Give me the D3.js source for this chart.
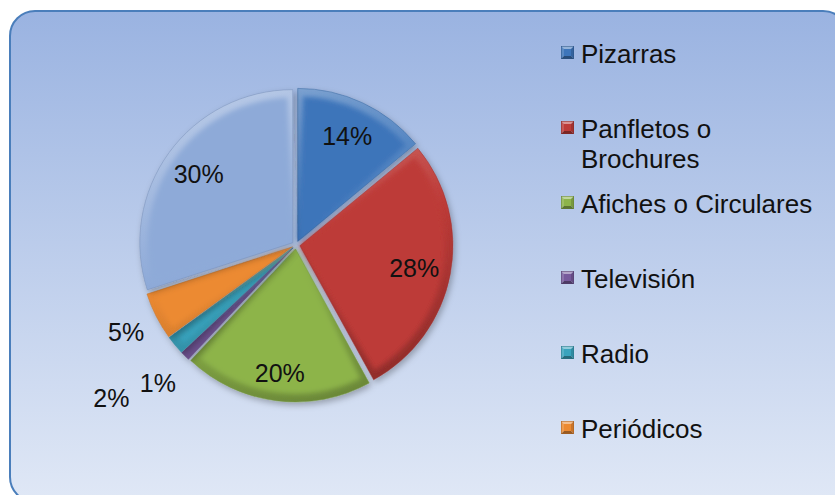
<!DOCTYPE html>
<html lang="es">
<head>
<meta charset="UTF-8">
<title>Medios de difusión</title>
<script src="https://cdn.jsdelivr.net/npm/d3@7"></script>
<style>
  body{margin:0;background:#fff;}
  svg text{font-family:"Liberation Sans",Arial,sans-serif;fill:#111;}
</style>
</head>
<body>
<script>
// datos
var categorias = ["Pizarras","Panfletos o Brochures","Afiches o Circulares","Televisión","Radio","Periódicos",null];
var porcentajes = [14,28,20,1,2,5,30];
var colores = ["#3d75ba","#bd3b38","#8db44a","#77599c","#39a3bd","#ec8a32","#8eaad8"];
// distancia de cada etiqueta al centro (fracción del radio)
var radioEtiqueta = [0.76,0.76,0.82,1.25,1.54,1.22,0.76];

var width = 835, height = 495;
var svg = d3.select("body").append("svg")
    .attr("width",width)
    .attr("height",height);
var defs = svg.append("defs");

// fondo con degradado y borde redondeado
var bg = defs.append("linearGradient").attr("id","fondo")
    .attr("x1",0).attr("y1",0).attr("x2",0).attr("y2",1);
bg.append("stop").attr("offset","0%").attr("stop-color","#9ab3e1");
bg.append("stop").attr("offset","100%").attr("stop-color","#e0e8f6");
svg.append("rect")
    .attr("x",10).attr("y",11)
    .attr("width",838).attr("height",491)
    .attr("rx",25)
    .attr("fill","url(#fondo)")
    .attr("stroke","#4a7ebb")
    .attr("stroke-width",2);

// sombra
var f = defs.append("filter").attr("id","sombra")
    .attr("x","-30%").attr("y","-30%").attr("width","160%").attr("height","160%");
f.append("feDropShadow").attr("dx",2).attr("dy",3).attr("stdDeviation",3)
    .attr("flood-color","#000").attr("flood-opacity",0.28);
// suavizado del interior (para el bisel)
defs.append("filter").attr("id","suave")
    .append("feGaussianBlur").attr("stdDeviation",2.5);

// pastel
var cx = 296, cy = 245, r = 153, explota = 4;
var pie = d3.pie().sort(null).value(function(d){ return d; });
var arcos = pie(porcentajes);
var arc = d3.arc().innerRadius(0).outerRadius(r);
var arcInterior = d3.arc().innerRadius(0).outerRadius(r-8).padAngle(0.07).padRadius(r);

function medio(d){ return (d.startAngle + d.endAngle)/2; }

var rebanadas = svg.append("g")
    .attr("transform","translate("+cx+","+cy+")")
    .selectAll("g")
    .data(arcos)
    .enter()
    .append("g")
    .attr("transform",function(d){
        var a = medio(d);
        return "translate("+(Math.sin(a)*explota)+","+(-Math.cos(a)*explota)+")";
    })
    .attr("filter","url(#sombra)");

// degradado del bisel para cada rebanada
arcos.forEach(function(d,i){
    var g = defs.append("linearGradient").attr("id","bisel"+i)
        .attr("gradientUnits","userSpaceOnUse")
        .attr("x1",-r*0.3).attr("y1",-r).attr("x2",r*0.3).attr("y2",r);
    g.append("stop").attr("offset","0%").attr("stop-color",d3.interpolateRgb(colores[i],"#fff")(0.35));
    g.append("stop").attr("offset","50%").attr("stop-color",colores[i]);
    g.append("stop").attr("offset","100%").attr("stop-color",d3.interpolateRgb(colores[i],"#000")(0.25));
});

var grupoSlice = rebanadas.append("g");
grupoSlice.append("path")
    .attr("d",arc)
    .attr("fill",function(d,i){ return "url(#bisel"+i+")"; });

grupoSlice.append("path")
    .attr("d",arcInterior)
    .attr("fill",function(d,i){ return colores[i]; })
    .attr("filter","url(#suave)");

grupoSlice.append("path")
    .attr("d",arc)
    .attr("fill","none")
    .attr("stroke",function(d,i){ return d3.color(colores[i]).darker(0.5); })
    .attr("stroke-opacity",0.6)
    .attr("stroke-width",0.8);

// etiquetas de porcentaje
svg.append("g")
    .selectAll("text")
    .data(arcos)
    .enter()
    .append("text")
    .attr("x",function(d,i){ return cx + Math.sin(medio(d))*(radioEtiqueta[i]*r + explota); })
    .attr("y",function(d,i){ return cy - Math.cos(medio(d))*(radioEtiqueta[i]*r + explota); })
    .attr("dy","0.36em")
    .attr("text-anchor","middle")
    .style("font-size","25px")
    .text(function(d){ return d.data + "%"; });

// leyenda
var items = categorias
    .map(function(c,i){ return {nombre:c, i:i}; })
    .filter(function(d){ return d.nombre; });
var yLeyenda = d3.scalePoint()
    .domain(items.map(function(d){ return d.i; }))
    .range([63,438]);

var leyenda = svg.append("g")
    .selectAll("g")
    .data(items)
    .enter()
    .append("g")
    .attr("transform",function(d){ return "translate(561,"+yLeyenda(d.i)+")"; });

// marcador biselado (cuatro caras)
var m = 13;
var caras = [
    {p:[[0,0],[m,0],[m/2,m/2]], k:0.45},
    {p:[[0,0],[m/2,m/2],[0,m]], k:0.15},
    {p:[[m,0],[m,m],[m/2,m/2]], k:-0.15},
    {p:[[0,m],[m/2,m/2],[m,m]], k:-0.35}
];
leyenda.each(function(d){
    var g = d3.select(this).append("g").attr("transform","translate(0,-17)");
    var c = colores[d.i];
    caras.forEach(function(cara){
        var col = cara.k > 0 ? d3.interpolateRgb(c,"#fff")(cara.k) : d3.interpolateRgb(c,"#000")(-cara.k);
        g.append("path")
            .attr("d","M"+cara.p.join("L")+"Z")
            .attr("fill",col);
    });
    g.append("rect").attr("x",3).attr("y",3).attr("width",m-6).attr("height",m-6)
        .attr("fill",c);
    g.append("rect").attr("x",0.25).attr("y",0.25).attr("width",m-0.5).attr("height",m-0.5)
        .attr("fill","none").attr("stroke",d3.color(c).darker(1)).attr("stroke-width",0.5);
});

leyenda.append("text")
    .attr("x",20)
    .attr("y",0)
    .style("font-size","26px")
    .each(function(d){
        // ajustar el texto al ancho de la leyenda
        var t = d3.select(this);
        var palabras = d.nombre.split(" ");
        var linea = [];
        var ts = t.append("tspan").attr("x",20).attr("dy",0);
        palabras.forEach(function(p){
            linea.push(p);
            ts.text(linea.join(" "));
            if (ts.node().getComputedTextLength() > 245 && linea.length > 1) {
                linea.pop();
                ts.text(linea.join(" "));
                linea = [p];
                ts = t.append("tspan").attr("x",20).attr("dy",30).text(p);
            }
        });
    });
</script>
</body>
</html>
